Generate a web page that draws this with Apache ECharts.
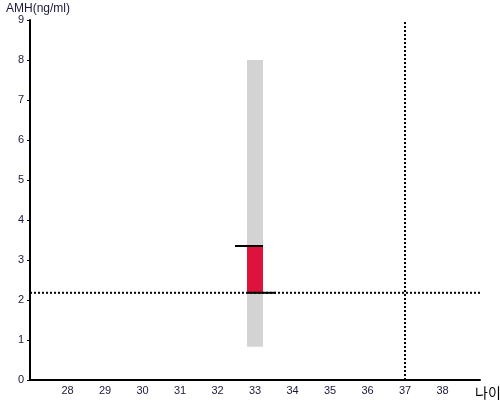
<!DOCTYPE html>
<html><head><meta charset="utf-8">
<script src="https://cdn.jsdelivr.net/npm/echarts@6/dist/echarts.min.js"></script>
<style>html,body{margin:0;padding:0;background:#fff}#c{width:500px;height:400px}</style>
</head><body><div id="c"></div>
<script>
const ages = [33];
const rangeLow = [0.83];
const rangeHigh = [8.0];
const valueLow = [2.18];
const valueHigh = [3.35];
const refAMH = 2.18;
const refAge = 37;
const xMin = 27, xMax = 39, yMin = 0, yMax = 9;

const chart = echarts.init(document.getElementById('c'), null, {renderer: 'canvas'});
const font = 'Liberation Sans, Arial, sans-serif';
chart.setOption({
  animation: false,
  grid: {left: 30, right: 20, top: 20, bottom: 20, containLabel: false, outerBoundsMode: 'none'},
  xAxis: {
    type: 'value', min: xMin, max: xMax, interval: 1,
    name: '나이', nameLocation: 'end', nameGap: -5,
    nameTextStyle: {color: '#000', fontSize: 14, fontFamily: 'Noto Sans CJK KR', verticalAlign: 'top', padding: [6, 0, 0, 0]},
    axisLine: {lineStyle: {color: '#000', width: 2}},
    axisTick: {show: false},
    splitLine: {show: false},
    axisLabel: {color: '#1a1a3a', fontSize: 11, fontFamily: font, margin: 5,
      formatter: v => (v === xMin || v === xMax) ? '' : String(v)}
  },
  yAxis: {
    type: 'value', min: yMin, max: yMax, interval: 1,
    name: 'AMH(ng/ml)', nameLocation: 'end', nameGap: 4,
    nameTextStyle: {color: '#1a1a3a', fontSize: 12, fontFamily: font, align: 'left', padding: [0, 0, 0, -24]},
    axisLine: {show: true, lineStyle: {color: '#000', width: 2}},
    axisTick: {show: true, length: 3, lineStyle: {color: '#000'}},
    splitLine: {show: false},
    axisLabel: {color: '#1a1a3a', fontSize: 11, fontFamily: font, margin: 6}
  },
  series: [
    {
      type: 'custom',
      data: ages.map((a, i) => [a, rangeLow[i], rangeHigh[i], valueLow[i], valueHigh[i]]),
      renderItem: function (params, api) {
        const x = api.value(0);
        const pLo = api.coord([x, api.value(1)]);
        const pHi = api.coord([x, api.value(2)]);
        const vLo = api.coord([x, api.value(3)]);
        const vHi = api.coord([x, api.value(4)]);
        const w = 16;
        const cx = pLo[0];
        return {
          type: 'group',
          children: [
            {type: 'rect', shape: {x: cx - w / 2, y: pHi[1], width: w, height: pLo[1] - pHi[1]}, style: {fill: '#d3d3d3'}},
            {type: 'rect', shape: {x: cx - w / 2, y: vHi[1], width: w, height: vLo[1] - vHi[1]}, style: {fill: '#dc143c'}},
            {type: 'line', shape: {x1: cx - 20, y1: vHi[1], x2: cx + 8, y2: vHi[1]}, style: {stroke: '#000', lineWidth: 2}},
            {type: 'line', shape: {x1: cx - 8, y1: vLo[1], x2: cx + 21, y2: vLo[1]}, style: {stroke: '#000', lineWidth: 2}}
          ]
        };
      },
      z: 2
    },
    {
      type: 'line', data: [[xMin, refAMH], [xMax, refAMH]], symbol: 'none',
      lineStyle: {color: '#000', width: 2, type: [2, 2]}, z: 3
    },
    {
      type: 'line', data: [[refAge, yMin], [refAge, yMax]], symbol: 'none',
      lineStyle: {color: '#000', width: 2, type: [2, 2]}, z: 3
    }
  ]
});
</script></body></html>
